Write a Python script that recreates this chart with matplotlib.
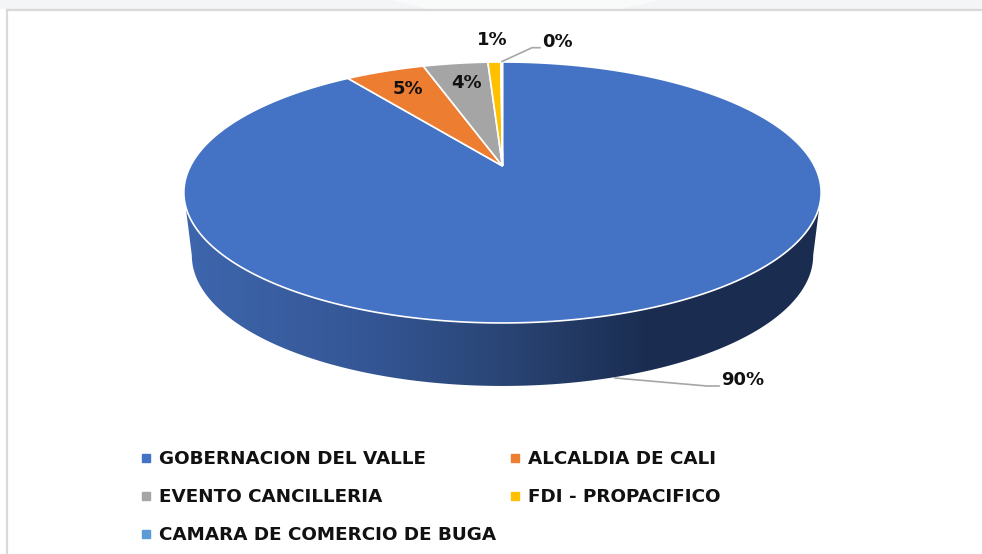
# Torta 3D: aportes por entidad
import numpy as np
import matplotlib
matplotlib.use("Agg")
import matplotlib.pyplot as plt
from matplotlib.colors import LinearSegmentedColormap
from matplotlib.lines import Line2D
from matplotlib.patches import Polygon, Rectangle

entidades = ["GOBERNACION DEL VALLE", "ALCALDIA DE CALI", "EVENTO CANCILLERIA",
             "FDI - PROPACIFICO", "CAMARA DE COMERCIO DE BUGA"]
valores = [90.2, 4.9, 4.0, 0.8, 0.1]
colores = ["#4472C4", "#ED7D31", "#A5A5A5", "#FFC000", "#5B9BD5"]


# perspectiva del disco: theta en grados, horario desde arriba
def proyectar(theta, r=1.0, esc=1.0, dy=0.0):
    t = np.radians(theta)
    u = r * np.sin(t)
    v = r * np.cos(t)
    w = 1 + 0.203 * v
    return 502.5 + 312 * esc * u / w, 166 + dy - 125.1 * v / w


fig = plt.figure(figsize=(9.82, 5.54), dpi=100, facecolor="white")
ax = fig.add_axes([0, 0, 1, 1])
ax.axis("off")

# franja superior y marco
ax.add_patch(Rectangle((0, 0), 982, 9, fc="#F4F5F7", ec="none"))
ax.fill([390, 405, 640, 660, 620, 430], [0, 0, 0, 0, 9, 9], color="#F9FAFA", lw=0)
ax.plot([7, 982], [9.5, 9.5], color="#D9D9D9", lw=1.6)
ax.plot([7, 7], [9.5, 554], color="#D9D9D9", lw=1.6)

# pared lateral con degradado
th = np.linspace(101.7, 258.3, 200)
x1, y1 = proyectar(th)
x2, y2 = proyectar(th[::-1], esc=0.975, dy=63)
pared = Polygon(np.column_stack([np.r_[x1, x2], np.r_[y1, y2]]), fc="none", ec="none")
ax.add_patch(pared)
cmap = LinearSegmentedColormap.from_list(
    "pared", [(0, "#3E66AD"), (0.29, "#345695"), (0.5, "#2A4575"), (0.72, "#1B2E52"), (1, "#1A2C50")])
img = ax.imshow(np.linspace(0, 1, 256)[None, :], cmap=cmap, extent=[184, 821, 400, 180], aspect="auto")
img.set_clip_path(pared)

# tajadas de la cara superior
angulos = np.cumsum([0] + valores) / sum(valores) * 360
for i in range(len(valores)):
    th = np.linspace(angulos[i], angulos[i + 1], 300)
    x, y = proyectar(th)
    ax.fill(np.r_[502.5, x], np.r_[166, y], color=colores[i], ec="white", lw=1.2, zorder=3)

ax.set_xlim(0, 982)
ax.set_ylim(554, 0)

# lineas guia
ax.plot([502, 532, 540], [61.5, 47.7, 47.7], color="#A6A6A6", lw=1.2, zorder=4)
ax.plot([615, 707, 719], [378, 386, 386], color="#A6A6A6", lw=1.2, zorder=4)

# etiquetas
pos_etiquetas = [(743, 380), (408, 89), (467, 83), (492, 40), (557, 42)]
for v, (px, py) in zip(valores, pos_etiquetas):
    ax.text(px, py, f"{v:.0f}%", ha="center", va="center", fontsize=13,
            fontweight="bold", color="#111111", zorder=5)

# leyenda, llena por columnas
orden = [0, 2, 4, 1, 3]
handles = [Line2D([], [], ls="", marker="s", ms=6.2, color=colores[i], label=entidades[i]) for i in orden]
ax.legend(handles=handles, ncol=2, frameon=False, loc="upper left", bbox_to_anchor=(135 / 982, 1 - 450 / 554),
          prop={"size": 13.2, "weight": "bold"}, labelcolor="#111111", columnspacing=0.41,
          handletextpad=0.08, handlelength=1.25, labelspacing=1.1, borderaxespad=0, borderpad=0)

plt.savefig("out.png", dpi=100)
